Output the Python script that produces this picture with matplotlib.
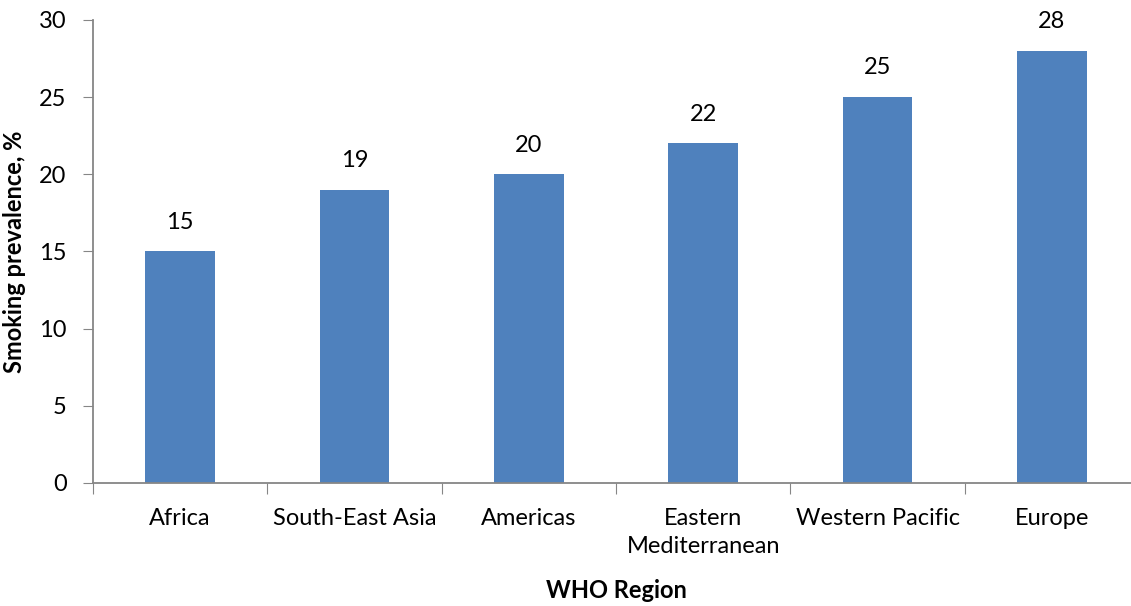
import numpy as np
import matplotlib.pyplot as plt

regions = ['Africa', 'South-East Asia', 'Americas', 'Eastern\nMediterranean',
           'Western Pacific', 'Europe']
prevalence = [15, 19, 20, 22, 25, 28]

plt.rcParams['font.family'] = ['Lato', 'DejaVu Sans']
grey = '#868686'
fs = 17

fig = plt.figure(figsize=(11.31, 6.06), dpi=100)
ax = fig.add_axes([0.0822, 0.203, 0.925, 0.764])

x = np.arange(len(regions))
bars = ax.bar(x, prevalence, width=0.4, color='#4F81BD')
for xi, v in zip(x, prevalence):
    ax.annotate(str(v), (xi, v), xytext=(0, 21), textcoords='offset points',
                ha='center', va='center', fontsize=fs)

ax.set_xlim(-0.5, len(regions) - 0.5)
ax.set_ylim(0, 30)
ax.set_yticks(range(0, 31, 5))
ax.set_xticks(np.arange(-0.5, len(regions), 1))
ax.set_xticklabels([])
ax.set_xticks(x, minor=True)
ax.set_xticklabels(regions, minor=True, fontsize=fs, va='top', linespacing=1.4)
ax.tick_params(axis='x', which='minor', length=0, pad=18)
ax.tick_params(axis='x', which='major', length=8, color=grey, direction='out')
ax.tick_params(axis='y', length=7, color=grey, labelsize=fs, pad=12)

for side in ['top', 'right']:
    ax.spines[side].set_visible(False)
for side in ['left', 'bottom']:
    ax.spines[side].set_color(grey)
    ax.spines[side].set_linewidth(1.3)

ax.set_ylabel('Smoking prevalence, %', fontsize=fs, fontweight='bold', labelpad=9)
ax.set_xlabel('WHO Region', fontsize=fs, fontweight='bold', labelpad=16)

fig.savefig('out.png', dpi=100)
